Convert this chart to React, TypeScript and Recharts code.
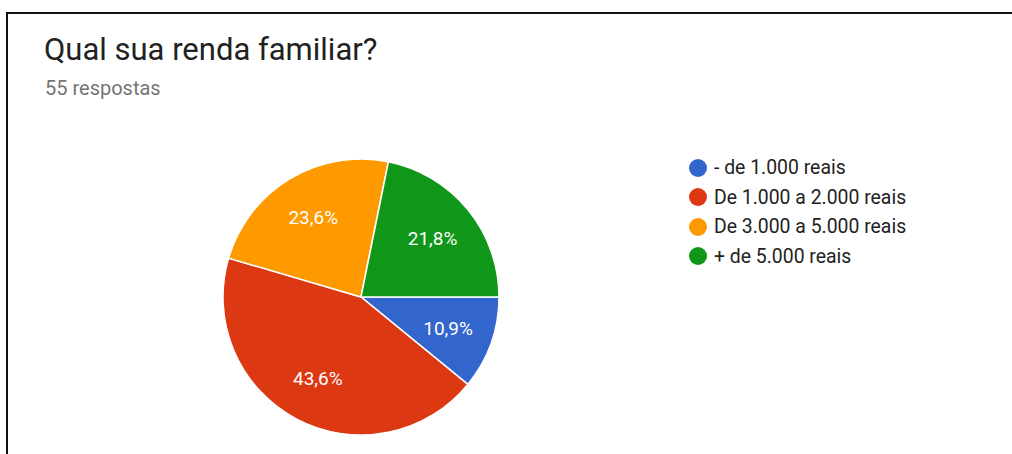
import React from "react";
import { PieChart, Pie, Cell } from "recharts";

const categories = [
  "- de 1.000 reais",
  "De 1.000 a 2.000 reais",
  "De 3.000 a 5.000 reais",
  "+ de 5.000 reais",
];
const counts = [6, 24, 13, 12];
const colors = ["#3366cc", "#dc3912", "#ff9900", "#109618"];
const title = "Qual sua renda familiar?";
const subtitle = "55 respostas";

const total = counts.reduce((a, b) => a + b, 0);
const data = categories.map((name, i) => ({ name, value: counts[i] }));

const RAD = Math.PI / 180;

const renderLabel = (props: any) => {
  const { cx, cy, midAngle, outerRadius, value } = props;
  const r = outerRadius * 0.67;
  const x = cx + r * Math.cos(-midAngle * RAD);
  const y = cy + r * Math.sin(-midAngle * RAD);
  const pct = ((value / total) * 100).toFixed(1).replace(".", ",") + "%";
  return (
    <text
      x={x}
      y={y}
      fill="#ffffff"
      textAnchor="middle"
      dominantBaseline="central"
      fontFamily="Roboto, Arial, sans-serif"
      fontSize={19}
    >
      {pct}
    </text>
  );
};

export default function App() {
  return (
    <div
      style={{
        position: "fixed",
        left: 0,
        top: 0,
        width: 1012,
        height: 454,
        background: "#fff",
        overflow: "hidden",
      }}
    >
      <div
        style={{
          position: "absolute",
          left: 6,
          top: 12,
          width: 1100,
          height: 600,
          border: "2px solid #111",
          boxSizing: "border-box",
        }}
      />
      <div
        style={{
          position: "absolute",
          left: 44,
          top: 30,
          fontFamily: "Roboto, Arial, sans-serif",
          fontSize: 31,
          color: "#212121",
          lineHeight: "40px",
          whiteSpace: "nowrap",
        }}
      >
        {title}
      </div>
      <div
        style={{
          position: "absolute",
          left: 45,
          top: 75,
          fontFamily: "Roboto, Arial, sans-serif",
          fontSize: 20,
          color: "#757575",
          lineHeight: "26px",
          whiteSpace: "nowrap",
        }}
      >
        {subtitle}
      </div>
      <div style={{ position: "absolute", left: 0, top: 0 }}>
        <PieChart width={1012} height={454} margin={{ top: 0, right: 0, bottom: 0, left: 0 }}>
          <Pie
            data={data}
            dataKey="value"
            nameKey="name"
            cx={361}
            cy={297}
            outerRadius={138}
            startAngle={0}
            endAngle={-360}
            stroke="#ffffff"
            strokeWidth={1.5}
            label={renderLabel}
            labelLine={false}
            isAnimationActive={false}
          >
            {data.map((d, i) => (
              <Cell key={d.name} fill={colors[i]} />
            ))}
          </Pie>
        </PieChart>
      </div>
      <div
        style={{
          position: "absolute",
          left: 689,
          top: 153,
          fontFamily: "Roboto, Arial, sans-serif",
          fontSize: 19.4,
          color: "#222",
        }}
      >
        {categories.map((c, i) => (
          <div key={c} style={{ display: "flex", alignItems: "center", height: 29.5, whiteSpace: "nowrap" }}>
            <span
              style={{
                display: "inline-block",
                width: 18,
                height: 18,
                borderRadius: 9,
                background: colors[i],
                marginRight: 7,
              }}
            />
            <span>{c}</span>
          </div>
        ))}
      </div>
    </div>
  );
}
